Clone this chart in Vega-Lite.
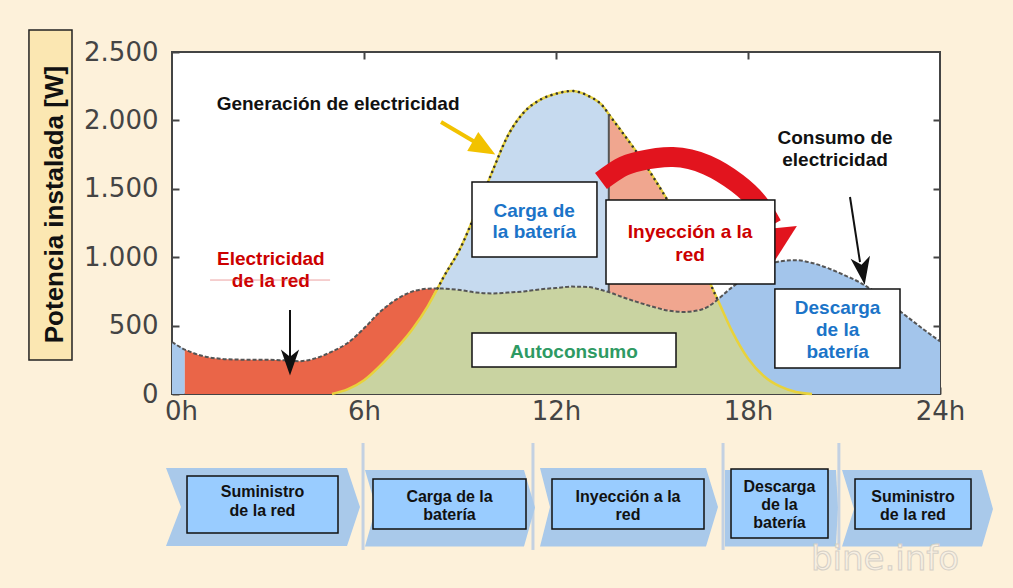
{
  "$schema": "https://vega.github.io/schema/vega-lite/v6.json",
  "width": 768,
  "height": 342,
  "autosize": {"type": "none"},
  "padding": {"left": 172, "top": 52, "right": 73, "bottom": 194},
  "background": "#fdf1da",
  "config": {"view": {"stroke": "#444", "strokeWidth": 2, "fill": "white"}, "axis": {"grid": false}},
  "resolve": {"axis": {"x": "independent", "y": "independent"}, "scale": {"color": "independent"}},
  "datasets": {
    "regions": [
      {"r": "bat0", "h": 0, "lo": 0, "hi": 380}, {"r": "bat0", "h": 0.4, "lo": 0, "hi": 325},
      {"r": "grid", "h": 0.4, "lo": 0, "hi": 325}, {"r": "grid", "h": 0.5, "lo": 0, "hi": 315}, {"r": "grid", "h": 1, "lo": 0, "hi": 275}, {"r": "grid", "h": 1.5, "lo": 0, "hi": 258}, {"r": "grid", "h": 2, "lo": 0, "hi": 252}, {"r": "grid", "h": 2.5, "lo": 0, "hi": 250}, {"r": "grid", "h": 3, "lo": 0, "hi": 250}, {"r": "grid", "h": 3.5, "lo": 0, "hi": 246}, {"r": "grid", "h": 4, "lo": 0, "hi": 240}, {"r": "grid", "h": 4.5, "lo": 0, "hi": 262}, {"r": "grid", "h": 5, "lo": 0, "hi": 310}, {"r": "grid", "h": 5.5, "lo": 35, "hi": 375}, {"r": "grid", "h": 6, "lo": 100, "hi": 480}, {"r": "grid", "h": 6.5, "lo": 205, "hi": 600}, {"r": "grid", "h": 7, "lo": 330, "hi": 690}, {"r": "grid", "h": 7.5, "lo": 470, "hi": 748}, {"r": "grid", "h": 8, "lo": 645, "hi": 770}, {"r": "grid", "h": 8.3, "lo": 772, "hi": 772},
      {"r": "self", "h": 5, "lo": 0, "hi": 0}, {"r": "self", "h": 5.5, "lo": 0, "hi": 35}, {"r": "self", "h": 6, "lo": 0, "hi": 100}, {"r": "self", "h": 6.5, "lo": 0, "hi": 205}, {"r": "self", "h": 7, "lo": 0, "hi": 330}, {"r": "self", "h": 7.5, "lo": 0, "hi": 470}, {"r": "self", "h": 8, "lo": 0, "hi": 645}, {"r": "self", "h": 8.3, "lo": 0, "hi": 772}, {"r": "self", "h": 8.5, "lo": 0, "hi": 770}, {"r": "self", "h": 9, "lo": 0, "hi": 760}, {"r": "self", "h": 9.5, "lo": 0, "hi": 742}, {"r": "self", "h": 10, "lo": 0, "hi": 735}, {"r": "self", "h": 10.5, "lo": 0, "hi": 742}, {"r": "self", "h": 11, "lo": 0, "hi": 750}, {"r": "self", "h": 11.5, "lo": 0, "hi": 765}, {"r": "self", "h": 12, "lo": 0, "hi": 775}, {"r": "self", "h": 12.5, "lo": 0, "hi": 785}, {"r": "self", "h": 13, "lo": 0, "hi": 782}, {"r": "self", "h": 13.5, "lo": 0, "hi": 755}, {"r": "self", "h": 13.65, "lo": 0, "hi": 745}, {"r": "self", "h": 14, "lo": 0, "hi": 715}, {"r": "self", "h": 14.5, "lo": 0, "hi": 675}, {"r": "self", "h": 15, "lo": 0, "hi": 640}, {"r": "self", "h": 15.5, "lo": 0, "hi": 610}, {"r": "self", "h": 16, "lo": 0, "hi": 600}, {"r": "self", "h": 16.5, "lo": 0, "hi": 614}, {"r": "self", "h": 17, "lo": 0, "hi": 680}, {"r": "self", "h": 17.05, "lo": 0, "hi": 690}, {"r": "self", "h": 17.5, "lo": 0, "hi": 460}, {"r": "self", "h": 18, "lo": 0, "hi": 260}, {"r": "self", "h": 18.5, "lo": 0, "hi": 130}, {"r": "self", "h": 19, "lo": 0, "hi": 55}, {"r": "self", "h": 19.5, "lo": 0, "hi": 15}, {"r": "self", "h": 20, "lo": 0, "hi": 0},
      {"r": "charge", "h": 8.3, "lo": 772, "hi": 772}, {"r": "charge", "h": 8.5, "lo": 770, "hi": 860}, {"r": "charge", "h": 9, "lo": 760, "hi": 1060}, {"r": "charge", "h": 9.5, "lo": 742, "hi": 1330}, {"r": "charge", "h": 10, "lo": 735, "hi": 1620}, {"r": "charge", "h": 10.5, "lo": 742, "hi": 1890}, {"r": "charge", "h": 11, "lo": 750, "hi": 2060}, {"r": "charge", "h": 11.5, "lo": 765, "hi": 2150}, {"r": "charge", "h": 12, "lo": 775, "hi": 2195}, {"r": "charge", "h": 12.5, "lo": 785, "hi": 2215}, {"r": "charge", "h": 13, "lo": 782, "hi": 2180}, {"r": "charge", "h": 13.5, "lo": 755, "hi": 2095}, {"r": "charge", "h": 13.65, "lo": 745, "hi": 2045},
      {"r": "inject", "h": 13.65, "lo": 745, "hi": 2045}, {"r": "inject", "h": 14, "lo": 715, "hi": 1935}, {"r": "inject", "h": 14.5, "lo": 675, "hi": 1775}, {"r": "inject", "h": 15, "lo": 640, "hi": 1600}, {"r": "inject", "h": 15.5, "lo": 610, "hi": 1410}, {"r": "inject", "h": 16, "lo": 600, "hi": 1200}, {"r": "inject", "h": 16.5, "lo": 614, "hi": 970}, {"r": "inject", "h": 17, "lo": 680, "hi": 715}, {"r": "inject", "h": 17.05, "lo": 690, "hi": 690},
      {"r": "discharge", "h": 17.05, "lo": 690, "hi": 690}, {"r": "discharge", "h": 17.5, "lo": 460, "hi": 780}, {"r": "discharge", "h": 18, "lo": 260, "hi": 862}, {"r": "discharge", "h": 18.5, "lo": 130, "hi": 930}, {"r": "discharge", "h": 19, "lo": 55, "hi": 970}, {"r": "discharge", "h": 19.5, "lo": 15, "hi": 978}, {"r": "discharge", "h": 20, "lo": 0, "hi": 958}, {"r": "discharge", "h": 20.5, "lo": 0, "hi": 920}, {"r": "discharge", "h": 21, "lo": 0, "hi": 870}, {"r": "discharge", "h": 21.5, "lo": 0, "hi": 815}, {"r": "discharge", "h": 22, "lo": 0, "hi": 740}, {"r": "discharge", "h": 22.5, "lo": 0, "hi": 650}, {"r": "discharge", "h": 23, "lo": 0, "hi": 560}, {"r": "discharge", "h": 23.5, "lo": 0, "hi": 470}, {"r": "discharge", "h": 24, "lo": 0, "hi": 385}
    ],
    "cons": [
      {"h": 0, "C": 380}, {"h": 0.4, "C": 325}, {"h": 0.5, "C": 315}, {"h": 1, "C": 275}, {"h": 1.5, "C": 258}, {"h": 2, "C": 252}, {"h": 2.5, "C": 250}, {"h": 3, "C": 250}, {"h": 3.5, "C": 246}, {"h": 4, "C": 240}, {"h": 4.5, "C": 262}, {"h": 5, "C": 310}, {"h": 5.5, "C": 375}, {"h": 6, "C": 480}, {"h": 6.5, "C": 600}, {"h": 7, "C": 690}, {"h": 7.5, "C": 748}, {"h": 8, "C": 770}, {"h": 8.3, "C": 772}, {"h": 8.5, "C": 770}, {"h": 9, "C": 760}, {"h": 9.5, "C": 742}, {"h": 10, "C": 735}, {"h": 10.5, "C": 742}, {"h": 11, "C": 750}, {"h": 11.5, "C": 765}, {"h": 12, "C": 775}, {"h": 12.5, "C": 785}, {"h": 13, "C": 782}, {"h": 13.5, "C": 755}, {"h": 13.65, "C": 745}, {"h": 14, "C": 715}, {"h": 14.5, "C": 675}, {"h": 15, "C": 640}, {"h": 15.5, "C": 610}, {"h": 16, "C": 600}, {"h": 16.5, "C": 614}, {"h": 17, "C": 680}, {"h": 17.05, "C": 690}, {"h": 17.5, "C": 780}, {"h": 18, "C": 862}, {"h": 18.5, "C": 930}, {"h": 19, "C": 970}, {"h": 19.5, "C": 978}, {"h": 20, "C": 958}, {"h": 20.5, "C": 920}, {"h": 21, "C": 870}, {"h": 21.5, "C": 815}, {"h": 22, "C": 740}, {"h": 22.5, "C": 650}, {"h": 23, "C": 560}, {"h": 23.5, "C": 470}, {"h": 24, "C": 385}
    ],
    "gen": [
      {"h": 5, "G": 0}, {"h": 5.5, "G": 35}, {"h": 6, "G": 100}, {"h": 6.5, "G": 205}, {"h": 7, "G": 330}, {"h": 7.5, "G": 470}, {"h": 8, "G": 645}, {"h": 8.3, "G": 772}, {"h": 8.5, "G": 860}, {"h": 9, "G": 1060}, {"h": 9.5, "G": 1330}, {"h": 10, "G": 1620}, {"h": 10.5, "G": 1890}, {"h": 11, "G": 2060}, {"h": 11.5, "G": 2150}, {"h": 12, "G": 2195}, {"h": 12.5, "G": 2215}, {"h": 13, "G": 2180}, {"h": 13.5, "G": 2095}, {"h": 13.65, "G": 2045}, {"h": 14, "G": 1935}, {"h": 14.5, "G": 1775}, {"h": 15, "G": 1600}, {"h": 15.5, "G": 1410}, {"h": 16, "G": 1200}, {"h": 16.5, "G": 970}, {"h": 17, "G": 715}, {"h": 17.05, "G": 690}, {"h": 17.5, "G": 460}, {"h": 18, "G": 260}, {"h": 18.5, "G": 130}, {"h": 19, "G": 55}, {"h": 19.5, "G": 15}, {"h": 20, "G": 0}
    ],
    "split": [{"h": 13.65, "lo": 745, "hi": 2045}],
    "arc": [
      {"h": 13.406, "w": 1557}, {"h": 14.0, "w": 1652}, {"h": 14.625, "w": 1703}, {"h": 15.656, "w": 1732}, {"h": 16.719, "w": 1674}, {"h": 17.656, "w": 1542}, {"h": 18.3125, "w": 1396}, {"h": 18.75, "w": 1235}
    ],
    "arcHead": [{"h": 18.578, "w": 1074}],
    "boxes": [
      {"x1": 9.375, "x2": 13.28, "y1": 1001.5, "y2": 1550},
      {"x1": 13.5625, "x2": 18.84, "y1": 804, "y2": 1418},
      {"x1": 18.84, "x2": 22.75, "y1": 190, "y2": 767.5},
      {"x1": 9.375, "x2": 15.75, "y1": 197, "y2": 446}
    ],
    "labels": [
      {"t": "Generación de electricidad", "h": 5.19, "w": 2076, "g": "neutral"},
      {"t": "Consumo de", "h": 20.72, "w": 1827, "g": "neutral"},
      {"t": "electricidad", "h": 20.72, "w": 1669, "g": "neutral"},
      {"t": "Electricidad", "h": 3.09, "w": 943, "g": "grid"},
      {"t": "de la red", "h": 3.09, "w": 782, "g": "grid"},
      {"t": "Carga de", "h": 11.32, "w": 1296, "g": "battery"},
      {"t": "la batería", "h": 11.32, "w": 1138, "g": "battery"},
      {"t": "Inyección a la", "h": 16.19, "w": 1138, "g": "grid"},
      {"t": "red", "h": 16.19, "w": 972, "g": "grid"},
      {"t": "Autoconsumo", "h": 12.56, "w": 265, "g": "self"},
      {"t": "Descarga", "h": 20.8, "w": 585, "g": "battery"},
      {"t": "de la", "h": 20.8, "w": 424, "g": "battery"},
      {"t": "batería", "h": 20.8, "w": 261, "g": "battery"}
    ],
    "strike": [{"h1": 1.19, "h2": 4.94, "w": 833}],
    "yshaft": [{"h1": 8.406, "w1": 1988, "h2": 9.625, "w2": 1820}],
    "kshafts": [{"h1": 3.6875, "w1": 614, "h2": 3.6875, "w2": 263}, {"h1": 21.1875, "w1": 1440, "h2": 21.5, "w2": 965}],
    "yhead": [{"h": 9.75, "w": 1798}],
    "khead1": [{"h": 3.6875, "w": 230}],
    "khead2": [{"h": 21.578, "w": 899}],
    "ytitle": [{"t": "Potencia instalada [W]", "h": -3.397, "w": 1385, "x1": -4.47, "x2": -3.125, "y1": 248.5, "y2": 2661}],
    "chev": [
      {"c": 1, "cy": -540.9, "xl": -0.1875, "xr": 5.469}, {"c": 1, "cy": -826, "xl": 0.281, "xr": 5.875}, {"c": 1, "cy": -1111.1, "xl": -0.1875, "xr": 5.469},
      {"c": 2, "cy": -555, "xl": 6.031, "xr": 11.0}, {"c": 2, "cy": -830, "xl": 6.375, "xr": 11.344}, {"c": 2, "cy": -1115, "xl": 6.031, "xr": 11.0},
      {"c": 3, "cy": -540.9, "xl": 11.5, "xr": 16.6875}, {"c": 3, "cy": -826, "xl": 11.8125, "xr": 17.0625}, {"c": 3, "cy": -1115, "xl": 11.5, "xr": 16.6875},
      {"c": 4, "cy": -555, "xl": 17.28, "xr": 20.75}, {"c": 4, "cy": -830, "xl": 17.28, "xr": 20.81}, {"c": 4, "cy": -1115, "xl": 17.28, "xr": 20.75},
      {"c": 5, "cy": -555, "xl": 20.9375, "xr": 25.3125}, {"c": 5, "cy": -840, "xl": 21.3125, "xr": 25.656}, {"c": 5, "cy": -1115, "xl": 20.9375, "xr": 25.3125}
    ],
    "seps": [{"h": 5.97, "w1": -358, "w2": -1140}, {"h": 11.28, "w1": -358, "w2": -1140}, {"h": 17.22, "w1": -358, "w2": -1140}, {"h": 20.84, "w1": -358, "w2": -1140}],
    "sboxes": [
      {"x1": 0.469, "x2": 5.1875, "y1": -1016.1, "y2": -599.4},
      {"x1": 6.281, "x2": 11.0625, "y1": -986.8, "y2": -621.3},
      {"x1": 11.875, "x2": 16.625, "y1": -986.8, "y2": -621.3},
      {"x1": 17.469, "x2": 20.5, "y1": -1052.6, "y2": -548.2},
      {"x1": 21.344, "x2": 24.969, "y1": -986.8, "y2": -621.3}
    ],
    "stext": [
      {"t": "Suministro", "h": 2.828, "w": -750.7}, {"t": "de la red", "h": 2.828, "w": -889.6},
      {"t": "Carga de la", "h": 8.672, "w": -787.3}, {"t": "batería", "h": 8.672, "w": -921.1},
      {"t": "Inyección a la", "h": 14.25, "w": -787.3}, {"t": "red", "h": 14.25, "w": -921.1},
      {"t": "Descarga", "h": 18.984, "w": -714.2}, {"t": "de la", "h": 18.984, "w": -848}, {"t": "batería", "h": 18.984, "w": -981.7},
      {"t": "Suministro", "h": 23.156, "w": -787.3}, {"t": "de la red", "h": 23.156, "w": -921.1}
    ],
    "wm": [{"t": "bine.info", "h": 22.28, "w": -1286}]
  },
  "layer": [
    {
      "data": {"name": "regions"},
      "mark": {"type": "area", "interpolate": "monotone"},
      "encoding": {
        "x": {"field": "h", "type": "quantitative", "scale": {"domain": [0, 24], "nice": false, "zero": false},
          "axis": {"orient": "bottom", "values": [0, 6, 12, 18, 24], "labelExpr": "datum.value + 'h'", "title": null, "domain": false, "tickSize": -7, "tickWidth": 2, "tickColor": "#444", "labelFont": "DejaVu Sans", "labelFontSize": 26, "labelColor": "#444", "labelPadding": 11, "labelFlush": false, "labelOffset": {"condition": {"test": "datum.value == 0", "value": 9}, "value": 0}}},
        "y": {"field": "hi", "type": "quantitative", "stack": null, "scale": {"domain": [0, 2500], "nice": false, "zero": false},
          "axis": {"orient": "left", "values": [0, 500, 1000, 1500, 2000, 2500], "labelExpr": "replace(format(datum.value, ','), ',', '.')", "title": null, "domain": false, "tickSize": -7, "tickWidth": 2, "tickColor": "#444", "labelFont": "DejaVu Sans", "labelFontSize": 26, "labelColor": "#444", "labelPadding": 21}},
        "y2": {"field": "lo"},
        "color": {"field": "r", "type": "nominal", "legend": null,
          "scale": {"domain": ["bat0", "grid", "self", "charge", "inject", "discharge"], "range": ["#a9c9ec", "#ea6548", "#c9d3a1", "#c6daef", "#f0a68f", "#a3c5eb"]}}
      }
    },
    {
      "data": {"name": "gen"},
      "mark": {"type": "line", "interpolate": "monotone", "color": "#e8d23c", "strokeWidth": 2.5},
      "encoding": {"x": {"field": "h", "type": "quantitative", "axis": null}, "y": {"field": "G", "type": "quantitative", "axis": null}}
    },
    {
      "data": {"name": "gen"},
      "transform": [{"filter": {"field": "h", "range": [8.3, 17.05]}}],
      "mark": {"type": "line", "interpolate": "monotone", "color": "#333", "strokeWidth": 2.5, "strokeDash": [0.1, 5.5], "strokeCap": "round"},
      "encoding": {"x": {"field": "h", "type": "quantitative", "axis": null}, "y": {"field": "G", "type": "quantitative", "axis": null}}
    },
    {
      "data": {"name": "cons"},
      "mark": {"type": "line", "interpolate": "monotone", "color": "#555", "strokeWidth": 2, "strokeDash": [4, 2]},
      "encoding": {
        "x": {"field": "h", "type": "quantitative", "axis": {"orient": "top", "values": [6, 12, 18], "labels": false, "title": null, "domain": false, "tickSize": -7, "tickWidth": 2, "tickColor": "#444"}},
        "y": {"field": "C", "type": "quantitative", "axis": {"orient": "right", "values": [500, 1000, 1500, 2000], "labels": false, "title": null, "domain": false, "tickSize": -7, "tickWidth": 2, "tickColor": "#444"}}
      }
    },
    {
      "data": {"name": "split"},
      "mark": {"type": "rule", "color": "#555", "strokeWidth": 2},
      "encoding": {"x": {"field": "h", "type": "quantitative", "axis": null}, "y": {"field": "lo", "type": "quantitative", "axis": null}, "y2": {"field": "hi"}}
    },
    {
      "data": {"name": "arc"},
      "mark": {"type": "line", "interpolate": "natural", "color": "#e2141e", "strokeWidth": 20, "strokeCap": "butt"},
      "encoding": {"x": {"field": "h", "type": "quantitative", "axis": null}, "y": {"field": "w", "type": "quantitative", "axis": null}}
    },
    {
      "data": {"name": "arcHead"},
      "mark": {"type": "point", "filled": true, "opacity": 1, "color": "#e2141e", "shape": "M-0.95,-0.47L0.95,-0.66L0.11,0.66Z", "size": 4096},
      "encoding": {"x": {"field": "h", "type": "quantitative", "axis": null}, "y": {"field": "w", "type": "quantitative", "axis": null}}
    },
    {
      "data": {"name": "boxes"},
      "mark": {"type": "rect", "fill": "white", "stroke": "#111", "strokeWidth": 1.5},
      "encoding": {"x": {"field": "x1", "type": "quantitative", "axis": null}, "x2": {"field": "x2"}, "y": {"field": "y1", "type": "quantitative", "axis": null}, "y2": {"field": "y2"}}
    },
    {
      "data": {"name": "labels"},
      "mark": {"type": "text", "font": "Liberation Sans", "fontWeight": "bold", "fontSize": 19, "align": "center", "baseline": "alphabetic"},
      "encoding": {
        "x": {"field": "h", "type": "quantitative", "axis": null},
        "y": {"field": "w", "type": "quantitative", "axis": null},
        "text": {"field": "t"},
        "color": {"field": "g", "type": "nominal", "legend": null, "scale": {"domain": ["neutral", "grid", "battery", "self"], "range": ["#111111", "#cc0000", "#1b74c8", "#2e9a63"]}}
      }
    },
    {
      "data": {"name": "strike"},
      "mark": {"type": "rule", "color": "#e06060", "strokeWidth": 1, "opacity": 0.6},
      "encoding": {"x": {"field": "h1", "type": "quantitative", "axis": null}, "x2": {"field": "h2"}, "y": {"field": "w", "type": "quantitative", "axis": null}}
    },
    {
      "data": {"name": "yshaft"},
      "mark": {"type": "rule", "color": "#f2c200", "strokeWidth": 4},
      "encoding": {"x": {"field": "h1", "type": "quantitative", "axis": null}, "x2": {"field": "h2"}, "y": {"field": "w1", "type": "quantitative", "axis": null}, "y2": {"field": "w2"}}
    },
    {
      "data": {"name": "kshafts"},
      "mark": {"type": "rule", "color": "#111", "strokeWidth": 2},
      "encoding": {"x": {"field": "h1", "type": "quantitative", "axis": null}, "x2": {"field": "h2"}, "y": {"field": "w1", "type": "quantitative", "axis": null}, "y2": {"field": "w2"}}
    },
    {
      "data": {"name": "yhead"},
      "mark": {"type": "point", "filled": true, "opacity": 1, "color": "#f2c200", "shape": "M0,1L-0.85,-1L0.85,-1Z", "size": 676, "angle": 300},
      "encoding": {"x": {"field": "h", "type": "quantitative", "axis": null}, "y": {"field": "w", "type": "quantitative", "axis": null}}
    },
    {
      "data": {"name": "khead1"},
      "mark": {"type": "point", "filled": true, "opacity": 1, "color": "#111", "shape": "M0,1L-0.7,-1L0,-0.45L0.7,-1Z", "size": 676},
      "encoding": {"x": {"field": "h", "type": "quantitative", "axis": null}, "y": {"field": "w", "type": "quantitative", "axis": null}}
    },
    {
      "data": {"name": "khead2"},
      "mark": {"type": "point", "filled": true, "opacity": 1, "color": "#111", "shape": "M0,1L-0.7,-1L0,-0.45L0.7,-1Z", "size": 784, "angle": 351},
      "encoding": {"x": {"field": "h", "type": "quantitative", "axis": null}, "y": {"field": "w", "type": "quantitative", "axis": null}}
    },
    {
      "data": {"name": "ytitle"},
      "mark": {"type": "rect", "fill": "#fbe7b2", "stroke": "#222", "strokeWidth": 1.5},
      "encoding": {"x": {"field": "x1", "type": "quantitative", "axis": null}, "x2": {"field": "x2"}, "y": {"field": "y1", "type": "quantitative", "axis": null}, "y2": {"field": "y2"}}
    },
    {
      "data": {"name": "ytitle"},
      "mark": {"type": "text", "font": "Liberation Sans", "fontWeight": "bold", "fontSize": 26, "align": "center", "baseline": "alphabetic", "angle": 270, "color": "#111"},
      "encoding": {"x": {"field": "h", "type": "quantitative", "axis": null}, "y": {"field": "w", "type": "quantitative", "axis": null}, "text": {"field": "t"}}
    },
    {
      "data": {"name": "seps"},
      "mark": {"type": "rule", "color": "#c3d1e2", "strokeWidth": 3},
      "encoding": {"x": {"field": "h", "type": "quantitative", "axis": null}, "y": {"field": "w1", "type": "quantitative", "axis": null}, "y2": {"field": "w2"}}
    },
    {
      "data": {"name": "chev"},
      "mark": {"type": "area", "orient": "horizontal", "color": "#a9c9ea", "opacity": 1},
      "encoding": {
        "y": {"field": "cy", "type": "quantitative", "axis": null},
        "x": {"field": "xl", "type": "quantitative", "stack": null, "axis": null},
        "x2": {"field": "xr"},
        "detail": {"field": "c", "type": "nominal"}
      }
    },
    {
      "data": {"name": "sboxes"},
      "mark": {"type": "rect", "fill": "#99ccff", "stroke": "#111", "strokeWidth": 1.5},
      "encoding": {"x": {"field": "x1", "type": "quantitative", "axis": null}, "x2": {"field": "x2"}, "y": {"field": "y1", "type": "quantitative", "axis": null}, "y2": {"field": "y2"}}
    },
    {
      "data": {"name": "stext"},
      "mark": {"type": "text", "font": "Liberation Sans", "fontWeight": "bold", "fontSize": 16, "align": "center", "baseline": "alphabetic", "color": "#111"},
      "encoding": {"x": {"field": "h", "type": "quantitative", "axis": null}, "y": {"field": "w", "type": "quantitative", "axis": null}, "text": {"field": "t"}}
    },
    {
      "data": {"name": "wm"},
      "mark": {"type": "text", "font": "DejaVu Sans", "fontSize": 34, "align": "center", "baseline": "alphabetic", "fill": "#f7efe2", "stroke": "#d6d0c6", "strokeWidth": 1},
      "encoding": {"x": {"field": "h", "type": "quantitative", "axis": null}, "y": {"field": "w", "type": "quantitative", "axis": null}, "text": {"field": "t"}}
    }
  ]
}
